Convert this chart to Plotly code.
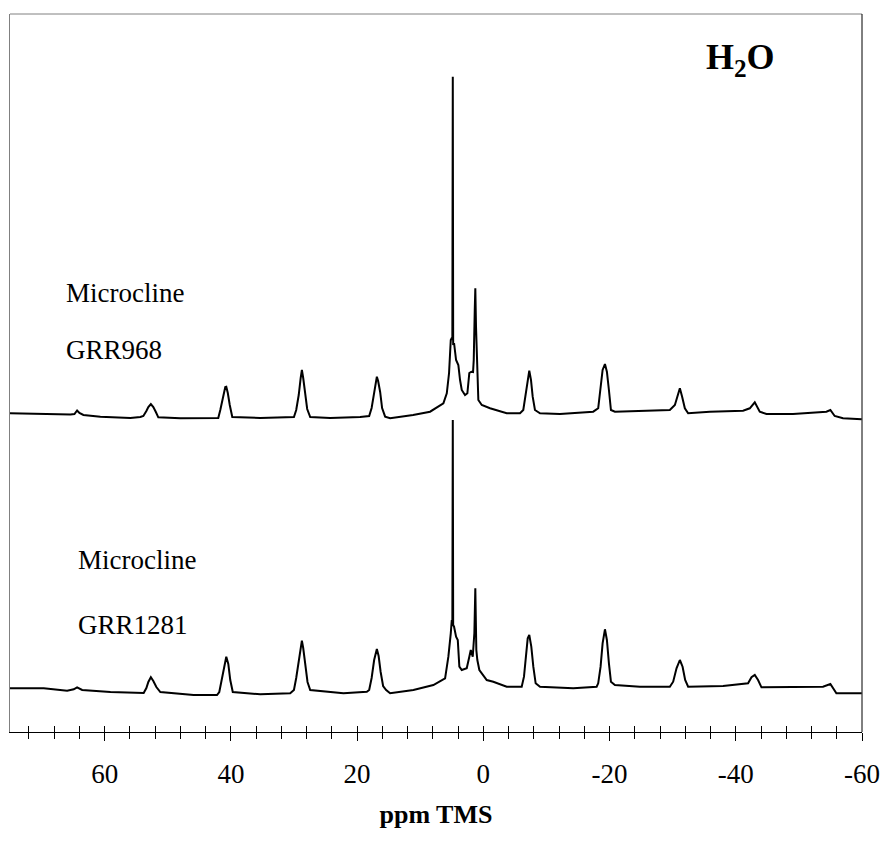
import plotly.graph_objects as go

# ---- data (chemical shift in ppm, intensity in arbitrary units) ----
upper_ppm = [75.0, 70.18, 65.43, 64.79, 64.37, 64.0, 63.37, 60.68, 55.93, 54.35,
             53.87, 53.39, 53.08, 52.68, 52.29, 51.89, 51.50, 48.01, 43.26, 42.0,
             41.68, 41.29, 40.89, 40.73, 40.49, 40.18, 39.78, 35.35, 31.39, 30.01,
             29.65, 29.25, 28.94, 28.75, 28.54, 28.23, 27.91, 27.43, 24.27, 19.52,
             18.09, 17.70, 17.30, 16.99, 16.87, 16.67, 16.35, 16.04, 15.56, 14.77,
             11.13, 8.44, 6.33, 5.79, 5.43, 5.16, 5.00, 4.91, 4.84, 4.78,
             4.64, 4.32, 3.96, 3.69, 3.42, 2.90, 2.53, 2.22, 1.90, 1.63,
             1.52, 1.36, 1.27, 1.16, 1.00, 0.79, 0.25, -1.06, -3.70, -5.81,
             -6.33, -6.71, -7.03, -7.28, -7.55, -7.82, -8.18, -8.98, -12.14, -17.41,
             -18.20, -18.58, -18.90, -19.27, -19.58, -19.90, -20.22, -20.85, -25.33, -29.55,
             -30.35, -30.71, -31.14, -31.50, -31.93, -32.45, -35.89, -41.16, -42.22, -43.01,
             -43.80, -44.86, -49.07, -54.36, -54.99, -55.67, -56.99, -59.95]
upper_int = [2.7, 2, 1.5, 2, 5.5, 3, 1, -0.7, -2, -1,
             0, 5, 9, 12, 9, 4, -1.3, -2.3, -2, -2,
             6, 18, 29, 29.3, 23, 11, -1, -2, -1.5, -1,
             6, 21, 38, 46, 38, 21, 7, -1, -2, -1,
             0, 8, 24, 36, 39.3, 35, 24, 8, -0.7, -2.3,
             1, 4.3, 12.7, 22.7, 43, 76, 78, 76, 339.3, 71,
             73, 56, 51, 36, 26, 21, 22.7, 43, 44.3, 44,
             56, 106, 127.7, 89.3, 43, 16, 11, 7.7, 2.7, 2.7,
             6, 23, 39.3, 45.3, 36, 19.3, 6, 2.7, 2, 4.3,
             7.7, 26, 46, 52, 44.3, 26, 6, 4.3, 5, 6,
             11, 19.3, 27.7, 19.3, 7.7, 2.7, 4.3, 5.3, 7.7, 13.7,
             4.3, 2, 2, 4.3, 6, 0, -2.3, -3.3]

lower_ppm = [75.0, 69.65, 65.95, 64.90, 64.37, 63.57, 59.09, 53.82, 53.39, 53.08,
             52.68, 52.29, 51.81, 51.18, 45.91, 42.20, 41.84, 41.44, 41.05, 40.73,
             40.41, 40.10, 39.70, 35.35, 30.60, 30.01, 29.65, 29.25, 28.94, 28.75,
             28.54, 28.23, 27.86, 27.43, 22.16, 18.46, 18.09, 17.70, 17.30, 16.87,
             16.59, 16.27, 15.88, 15.40, 14.77, 11.08, 7.92, 6.06, 5.54, 5.16,
             5.00, 4.91, 4.84, 4.78, 4.64, 4.32, 4.05, 3.80, 3.42, 2.63,
             2.22, 1.99, 1.68, 1.42, 1.27, 1.11, 0.95, 0.63, -0.54, -1.58,
             -3.70, -6.08, -6.44, -6.76, -7.03, -7.28, -7.60, -7.92, -8.29, -8.98,
             -14.25, -17.95, -18.20, -18.58, -18.90, -19.27, -19.58, -19.90, -20.22, -20.85,
             -24.81, -29.55, -30.08, -30.61, -31.14, -31.57, -31.98, -32.45, -37.99, -41.95,
             -42.49, -43.01, -43.53, -44.07, -48.55, -53.82, -54.99, -55.94, -59.95]
lower_int = [1.7, 1.7, -0.7, 0.7, 2.7, 0, -2, -3, 2, 8,
             12.7, 9, 3, -2, -5, -5, -2, 10, 25, 33.3,
             26, 10, -2, -4.3, -3.3, 0, 12, 30, 44, 49.3,
             42, 25, 8, 0, -3.3, -1.7, 0, 12, 30, 41,
             34, 18, 4, 0, -3.3, 0, 5, 11.7, 33.3, 56.7,
             70, 68, 270, 65, 63.3, 53.3, 50, 23.3, 20, 21.7,
             33.3, 40, 33.3, 57, 101.7, 40, 30, 20, 10, 8.3,
             3.3, 3.3, 13.3, 33.3, 51.7, 55, 43.3, 23.3, 6.7, 3.3,
             1.7, 3.3, 6.7, 23.3, 46.7, 60.7, 50, 26.7, 8.3, 5,
             3.3, 3.3, 8.3, 21.7, 30, 23.3, 10, 3.3, 4, 6.7,
             12.7, 15, 10, 2.7, 2.7, 3.3, 6, -3.3, -3.3]

stack_offset = 274  # vertical offset of the upper spectrum (GRR968)

tick_values = [60, 40, 20, 0, -20, -40, -60]
tick_labels = ["60", "40", "20", "0", "-20", "-40", "-60"]
x_minor_step = 4

serif = "Liberation Serif, Times New Roman, serif"

fig = go.Figure()
# lower spectrum on the overlay axis (inside ticks), upper on the main axis (outside ticks + labels)
fig.add_trace(go.Scatter(x=lower_ppm, y=lower_int, mode="lines", xaxis="x2", yaxis="y",
                         line=dict(color="black", width=2), showlegend=False))
fig.add_trace(go.Scatter(x=upper_ppm, y=[v + stack_offset for v in upper_int], mode="lines",
                         xaxis="x", yaxis="y",
                         line=dict(color="black", width=2), showlegend=False))

fig.update_layout(
    width=885, height=842,
    margin=dict(l=10, r=23, t=14, b=110, autoexpand=False),
    paper_bgcolor="white", plot_bgcolor="white",
    xaxis=dict(range=[75, -60], tickmode="array", tickvals=tick_values, ticktext=tick_labels,
               automargin=False,
               ticks="outside", ticklen=8, tickwidth=1, tickcolor="black",
               showline=True, linecolor="black", linewidth=1,
               showgrid=False, zeroline=False,
               tickfont=dict(family=serif, size=27, color="black"),
               ticklabelstandoff=10,
               minor=dict(dtick=x_minor_step, tick0=0, ticks="outside", ticklen=6,
                          tickwidth=1, tickcolor="black", showgrid=False),
               title=dict(text="<b>ppm TMS</b>", font=dict(family=serif, size=26, color="black"),
                          standoff=16)),
    xaxis2=dict(matches="x", overlaying="x", side="bottom", anchor="y", automargin=False,
                tickmode="array", tickvals=tick_values,
                ticks="inside", ticklen=6, tickwidth=1, tickcolor="black",
                showticklabels=False, showline=False, showgrid=False, zeroline=False,
                minor=dict(dtick=x_minor_step, tick0=0, ticks="inside", ticklen=6,
                           tickwidth=1, tickcolor="black", showgrid=False)),
    yaxis=dict(range=[-42, 676], ticks="", showticklabels=False, showline=True, automargin=False,
               linecolor="#808080", linewidth=1, showgrid=False, zeroline=False),
    shapes=[
        dict(type="line", xref="paper", yref="paper", x0=0, x1=1, y0=1, y1=1,
             line=dict(color="#808080", width=1)),
        dict(type="line", xref="paper", yref="paper", x0=1, x1=1, y0=0, y1=1,
             line=dict(color="black", width=1)),
    ],
)

ann_font = dict(family=serif, size=27, color="black")
labels = [
    ("Microcline", 0.0634, 0.611),
    ("GRR968", 0.0634, 0.5327),
    ("Microcline", 0.0775, 0.2396),
    ("GRR1281", 0.0775, 0.1494),
]
for txt, xp, yp in labels:
    fig.add_annotation(text=txt, xref="paper", yref="paper", x=xp, y=yp,
                       xanchor="left", yanchor="middle", showarrow=False, font=ann_font)
fig.add_annotation(text="<b>H<sub>2</sub>O</b>", xref="paper", yref="paper", x=0.814, y=0.937,
                   xanchor="left", yanchor="middle", showarrow=False,
                   font=dict(family=serif, size=36, color="black"))

fig.write_html("out.html")
